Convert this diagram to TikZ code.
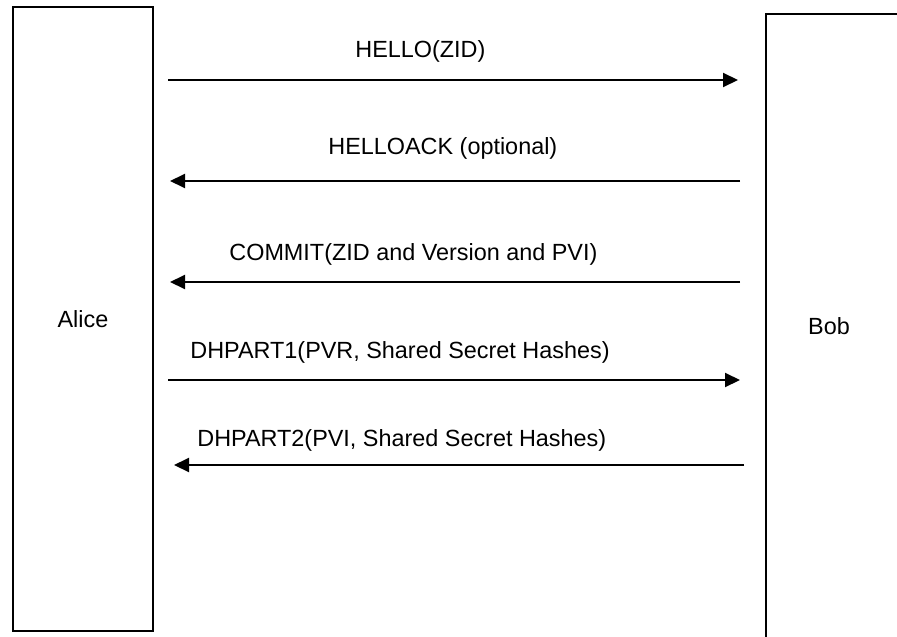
\documentclass[tikz,border=0pt]{standalone}
\usepackage{fontspec}
\setmainfont{Liberation Sans}
\usetikzlibrary{arrows.meta}

\begin{document}
\begin{tikzpicture}[
    x=0.5pt, y=-0.5pt,
    font=\fontsize{11.7}{14}\selectfont,
    party/.style={draw, line width=1pt, inner sep=0},
    msg/.style={-{Triangle[length=7.5pt, width=7pt]}, line width=1pt},
    lbl/.style={anchor=base west, inner sep=0}
  ]

  \useasboundingbox (0,0) rectangle (897,636);

  \node[party, minimum width=70pt, minimum height=312pt] (alice) at (83,319) {Alice};

  \node[party, anchor=north west, minimum width=80pt, minimum height=330pt] (bobbox) at (765,13) {};
  \node[inner sep=0] (bob) at (829,326) {Bob};

  \foreach \y/\from/\to/\lx/\ly/\txt [count=\i] in {
      80/168/738/355/58/{HELLO(ZID)},
      181/740/170/328/155/{HELLOACK (optional)},
      282/740/170/229/260/{COMMIT(ZID and Version and PVI)},
      380/168/740/190/358/{DHPART1(PVR, Shared Secret Hashes)},
      465/744/174/197/446/{DHPART2(PVI, Shared Secret Hashes)}} {
      \coordinate (m\i-s) at (\from,\y);
      \coordinate (m\i-e) at (\to,\y);
      \draw[msg] (m\i-s) -- (m\i-e);
      \node[lbl] (l\i) at (\lx,\ly) {\txt};
    }

\end{tikzpicture}
\end{document}
